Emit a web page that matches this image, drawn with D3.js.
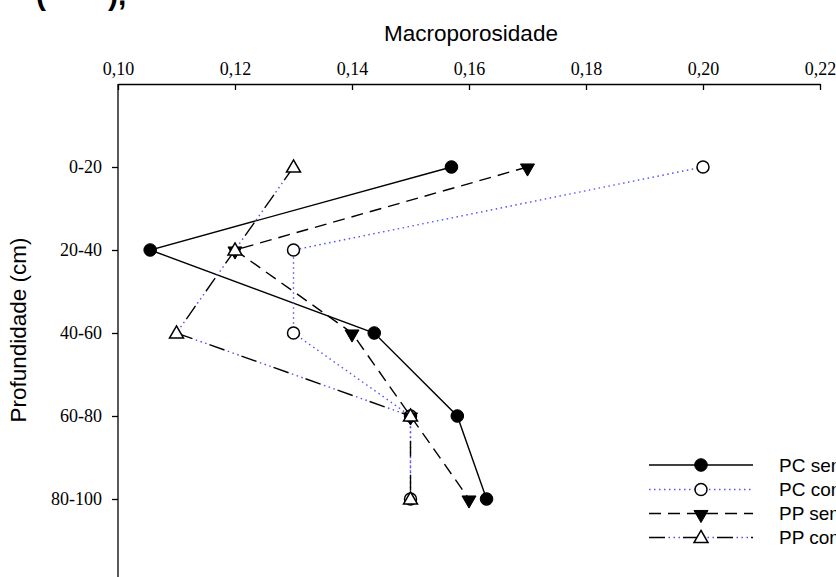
<!DOCTYPE html>
<html>
<head>
<meta charset="utf-8">
<script src="https://cdn.jsdelivr.net/npm/d3@7"></script>
<style>
  html, body { margin: 0; padding: 0; background: #fff; overflow: hidden; }
  svg { display: block; }
</style>
</head>
<body>
<svg id="chart" width="836" height="577"></svg>
<script>
// Depth layers (cm) and macroporosity per management system
const depths = ["0-20", "20-40", "40-60", "60-80", "80-100"];
const xTicks = [0.10, 0.12, 0.14, 0.16, 0.18, 0.20, 0.22];
const seriesNames = ["PC sem", "PC com", "PP sem", "PP com"];
const pcSem = [0.157, 0.1055, 0.1438, 0.158, 0.163];
const pcCom = [0.20, 0.13, 0.13, 0.15, 0.15];
const ppSem = [0.17, 0.12, 0.14, 0.15, 0.16];
const ppCom = [0.13, 0.12, 0.11, 0.15, 0.15];

const blue = "#4f4fff";
const serif = "'Liberation Serif', 'Times New Roman', serif";
const sans = "'Liberation Sans', Arial, sans-serif";

const svg = d3.select("#chart");

const x = d3.scaleLinear().domain([0.10, 0.22]).range([118, 820]);
const y = d3.scalePoint().domain(depths).range([84, 582]).padding(1);

const fmt = d => d3.format(".2f")(d).replace(".", ",");

// top axis
const gx = svg.append("g").attr("transform", "translate(0,84)")
  .call(d3.axisTop(x).tickValues(xTicks).tickFormat(fmt)
    .tickSizeInner(-6).tickSizeOuter(0).tickPadding(9));
gx.selectAll("text").attr("font-family", serif).attr("font-size", 18).attr("fill", "#000");
gx.selectAll("line, path").attr("stroke", "#000").attr("stroke-width", 1.3);

// left axis
const gy = svg.append("g").attr("transform", "translate(118,0)")
  .call(d3.axisLeft(y).tickSizeInner(6).tickSizeOuter(0).tickPadding(10));
gy.select("path.domain").attr("d", "M0,84V600");
gy.selectAll("text").attr("font-family", serif).attr("font-size", 18).attr("fill", "#000");
gy.selectAll("line, path").attr("stroke", "#000").attr("stroke-width", 1.3);

// axis titles
svg.append("text").attr("x", 471).attr("y", 41).attr("text-anchor", "middle")
  .attr("font-family", sans).attr("font-size", 22.5).text("Macroporosidade");
svg.append("text").attr("transform", "translate(26,330) rotate(-90)")
  .attr("text-anchor", "middle").attr("font-family", sans).attr("font-size", 22.5)
  .text("Profundidade (cm)");

// panel label (partly above the page)
svg.append("text").attr("x", 36).attr("y", 5).attr("font-family", sans)
  .attr("font-weight", "bold").attr("font-size", 30).text("(");
svg.append("text").attr("x", 108).attr("y", 5).attr("font-family", sans)
  .attr("font-weight", "bold").attr("font-size", 30).text("),");

// line styles: each is a list of stroke layers
const styles = [
  [{ color: "#000", dash: null }],
  [{ color: blue, dash: "1.5,3.5" }],
  [{ color: "#000", dash: "12,7" }],
  [{ color: "#000", dash: "16,18" }, { color: blue, dash: "0,19.5,1.5,3.5,1.5,3.5,1.5,3" }]
];

const triUp = d3.symbol().type(d3.symbolTriangle).size(85)();
const markers = [
  g => g.append("circle").attr("r", 6.3).attr("fill", "#000").attr("stroke", "#000"),
  g => g.append("circle").attr("r", 6).attr("fill", "#fff").attr("stroke", "#000").attr("stroke-width", 1.5),
  g => g.append("path").attr("d", triUp).attr("transform", "rotate(180) translate(0,-1)").attr("fill", "#000").attr("stroke", "#000"),
  g => g.append("path").attr("d", triUp).attr("transform", "translate(0,1)").attr("fill", "#fff").attr("stroke", "#000").attr("stroke-width", 1.5)
];

const allSeries = [pcSem, pcCom, ppSem, ppCom];
const line = d3.line().x(d => x(d.v)).y(d => y(d.depth));

allSeries.forEach((vals, i) => {
  const pts = vals.map((v, k) => ({ v, depth: depths[k] }));
  const g = svg.append("g");
  styles[i].forEach(s => {
    g.append("path").datum(pts).attr("d", line).attr("fill", "none")
      .attr("stroke", s.color).attr("stroke-width", 1.4)
      .attr("stroke-dasharray", s.dash);
  });
  pts.forEach(p => {
    const m = g.append("g").attr("transform", `translate(${x(p.v)},${y(p.depth)})`);
    markers[i](m);
  });
});

// legend
const legY = [465, 489.5, 513.5, 537.5];
const legendLabels = seriesNames.map(n => n + " preparo");
seriesNames.forEach((name, i) => {
  const g = svg.append("g").attr("transform", `translate(0,${legY[i]})`);
  styles[i].forEach(s => {
    g.append("line").attr("x1", 649).attr("x2", 753).attr("y1", 0).attr("y2", 0)
      .attr("stroke", s.color).attr("stroke-width", 1.4).attr("stroke-dasharray", s.dash);
  });
  const m = g.append("g").attr("transform", "translate(701,0)");
  markers[i](m);
  g.append("text").attr("x", 779).attr("y", 6.5).attr("font-family", sans)
    .attr("font-size", 19).text(legendLabels[i]);
});
</script>
</body>
</html>
